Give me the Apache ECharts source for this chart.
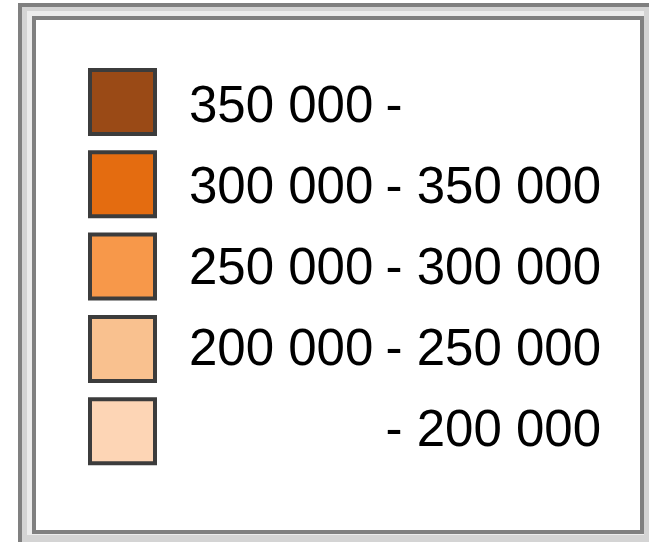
<!DOCTYPE html>
<html>
<head>
<meta charset="utf-8">
<style>
html,body{margin:0;padding:0;background:#fff;}
#chart{width:649px;height:542px;}
</style>
<script src="https://cdn.jsdelivr.net/npm/echarts@6/dist/echarts.min.js"></script>
</head>
<body>
<div id="chart"></div>
<script>
// class limits, top row first
var lowerBounds = [350000, 300000, 250000, 200000, null];
var upperBounds = [null, 350000, 300000, 250000, 200000];
var classColors = ['#9a4a16', '#e46c10', '#f7984a', '#f9c18f', '#fdd5b5'];

function fmt(v){
  // space as thousands separator
  return String(v).replace(/\B(?=(\d{3})+(?!\d))/g, ' ');
}

var chart = echarts.init(document.getElementById('chart'));

var elements = [
  // sunken frame
  {type: 'rect', shape: {x: 18, y: 3, width: 631, height: 539}, style: {fill: '#d4d4d4'}, silent: true},
  {type: 'rect', shape: {x: 18, y: 3, width: 4, height: 539}, style: {fill: '#808080'}, silent: true},
  {type: 'rect', shape: {x: 18, y: 3, width: 631, height: 4}, style: {fill: '#808080'}, silent: true},
  {type: 'rect', shape: {x: 27, y: 11, width: 617, height: 524}, style: {fill: '#ececec'}, silent: true},
  {type: 'rect', shape: {x: 32, y: 16, width: 612, height: 518}, style: {fill: '#808080'}, silent: true},
  {type: 'rect', shape: {x: 36, y: 20, width: 604, height: 510}, style: {fill: '#ffffff'}, silent: true}
];

var font = '51px "Liberation Sans", Arial, sans-serif';

classColors.forEach(function(c, i){
  var top = 68 + i * 82.3;
  elements.push({
    type: 'rect',
    shape: {x: 90, y: top + 2, width: 65, height: 64},
    style: {fill: c, stroke: '#3c3c3c', lineWidth: 4},
    silent: true
  });
  var ty = 108 + i * 81;
  if (lowerBounds[i] != null) {
    elements.push({type: 'text', x: 189, y: ty,
      style: {text: fmt(lowerBounds[i]), font: font, fill: '#000', align: 'left', verticalAlign: 'middle'}, silent: true});
  }
  elements.push({type: 'text', x: 394, y: ty,
    style: {text: '-', font: font, fill: '#000', align: 'center', verticalAlign: 'middle'}, silent: true});
  if (upperBounds[i] != null) {
    elements.push({type: 'text', x: 601, y: ty,
      style: {text: fmt(upperBounds[i]), font: font, fill: '#000', align: 'right', verticalAlign: 'middle'}, silent: true});
  }
});

chart.setOption({
  animation: false,
  graphic: {elements: elements}
});
</script>
</body>
</html>
